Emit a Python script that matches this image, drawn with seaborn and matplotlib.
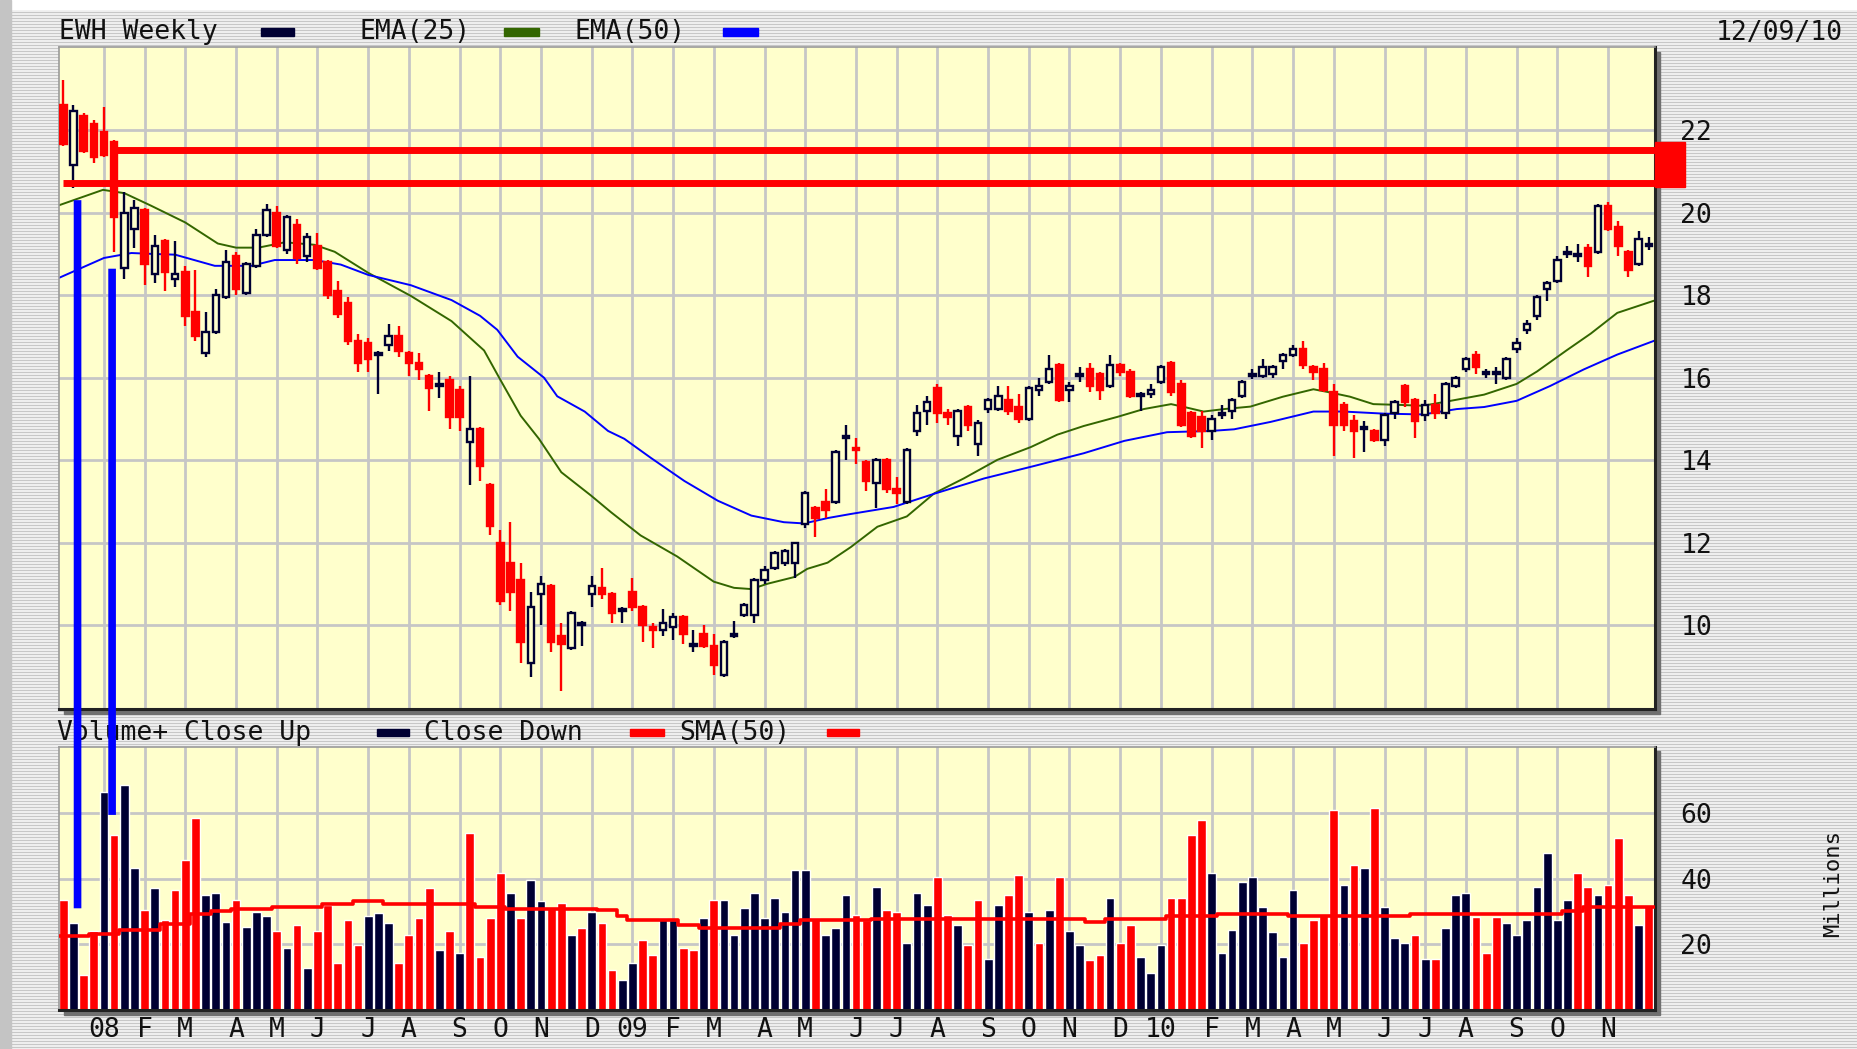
import numpy as np
import pandas as pd
import matplotlib
matplotlib.use("Agg")
import matplotlib.pyplot as plt
from matplotlib.patches import Rectangle, ConnectionPatch
import seaborn as sns

# --------------------------------------------------------------------------------
# EWH weekly candles, first week = 2007-12-03
# --------------------------------------------------------------------------------
opens = [22.6, 21.15, 22.35, 22.15, 21.95, 21.7, 18.65, 19.6, 20.05, 18.5,
         19.3, 18.4, 18.55, 17.6, 16.6, 17.1, 17.95, 18.95, 18.05, 18.7,
         19.45, 20.0, 19.1, 19.7, 18.95, 19.2, 18.8, 18.1, 17.8, 16.9,
         16.85, 16.55, 16.8, 17.0, 16.6, 16.35, 16.05, 15.8, 15.95, 15.7,
         14.45, 14.75, 13.4, 12.0, 11.5, 11.1, 9.1, 10.75, 10.95, 9.75,
         9.45, 10.0, 10.75, 10.9, 10.75, 10.35, 10.8, 10.45, 9.95, 9.9,
         9.95, 10.2, 9.5, 9.8, 9.5, 8.8, 9.75, 10.25, 10.25, 11.1,
         11.4, 11.5, 11.5, 12.45, 12.85, 13.0, 13.0, 14.55, 14.3, 13.95,
         13.45, 14.0, 13.3, 13.0, 14.7, 15.2, 15.75, 15.15, 14.6, 15.3,
         14.4, 15.25, 15.25, 15.45, 15.3, 15.0, 15.7, 15.9, 16.3, 15.7,
         16.05, 16.2, 16.1, 15.8, 16.3, 16.15, 15.55, 15.6, 15.9, 16.35,
         15.85, 15.15, 15.05, 14.7, 15.1, 15.2, 15.55, 16.05, 16.05, 16.1,
         16.4, 16.55, 16.7, 16.25, 16.2, 15.65, 15.35, 14.95, 14.75, 14.7,
         14.5, 15.15, 15.8, 15.45, 15.1, 15.35, 15.15, 15.8, 16.2, 16.55,
         16.1, 16.1, 16.0, 16.7, 17.15, 17.5, 18.15, 18.35, 19.0, 18.95,
         19.15, 19.05, 20.15, 19.65, 19.05, 18.75, 19.2]
highs = [23.2, 22.6, 22.4, 22.25, 22.55, 21.75, 20.5, 20.3, 20.1, 19.45,
         19.35, 19.3, 18.7, 18.6, 17.6, 18.15, 19.1, 19.05, 18.8, 19.6,
         20.2, 20.15, 19.95, 19.85, 19.5, 19.5, 18.85, 18.35, 17.95, 17.05,
         16.95, 16.65, 17.3, 17.25, 16.65, 16.6, 16.1, 16.15, 16.05, 15.8,
         16.05, 14.8, 13.45, 12.3, 12.5, 11.5, 10.8, 11.2, 11.0, 10.05,
         10.35, 10.1, 11.2, 11.4, 10.8, 10.45, 11.15, 10.5, 10.05, 10.4,
         10.3, 10.25, 9.9, 10.0, 9.8, 9.65, 10.1, 10.55, 11.15, 11.45,
         11.8, 11.85, 12.0, 13.25, 12.9, 13.3, 14.25, 14.85, 14.55, 14.0,
         14.05, 14.05, 13.6, 14.3, 15.35, 15.55, 15.85, 15.25, 15.25, 15.35,
         14.98, 15.5, 15.8, 15.8, 15.6, 15.8, 16.0, 16.55, 16.35, 15.9,
         16.25, 16.35, 16.15, 16.55, 16.35, 16.2, 15.65, 15.85, 16.3, 16.4,
         15.95, 15.2, 15.2, 15.1, 15.35, 15.5, 15.95, 16.2, 16.45, 16.3,
         16.6, 16.8, 16.9, 16.3, 16.35, 15.85, 15.4, 15.1, 14.95, 14.75,
         15.15, 15.45, 15.85, 15.5, 15.45, 15.6, 15.9, 16.05, 16.5, 16.65,
         16.2, 16.25, 16.5, 16.95, 17.4, 18.0, 18.35, 18.95, 19.2, 19.25,
         19.25, 20.2, 20.25, 19.8, 19.1, 19.55, 19.4]
lows = [21.6, 20.6, 21.45, 21.2, 21.35, 19.05, 18.4, 19.15, 18.25, 18.3,
        18.1, 18.2, 17.25, 16.9, 16.5, 17.05, 17.9, 18.0, 18.0, 18.65,
        19.4, 19.15, 19.0, 18.75, 18.8, 18.6, 17.9, 17.45, 16.8, 16.15,
        16.15, 15.6, 16.65, 16.5, 16.05, 15.95, 15.2, 15.5, 14.75, 14.7,
        13.4, 13.5, 12.2, 10.5, 10.35, 9.1, 8.75, 10.0, 9.35, 8.4,
        9.4, 9.5, 10.45, 10.65, 10.05, 10.05, 10.35, 9.6, 9.45, 9.75,
        9.65, 9.55, 9.35, 9.45, 8.8, 8.75, 9.7, 10.2, 10.05, 11.0,
        11.35, 11.45, 11.15, 12.35, 12.15, 12.6, 12.95, 14.0, 13.9, 13.25,
        12.85, 13.2, 12.95, 12.95, 14.6, 14.85, 14.9, 14.85, 14.35, 14.7,
        14.1, 15.15, 15.2, 15.1, 14.9, 14.95, 15.55, 15.85, 15.4, 15.4,
        15.9, 15.65, 15.45, 15.75, 16.05, 15.5, 15.2, 15.5, 15.85, 15.55,
        14.8, 14.55, 14.3, 14.5, 15.0, 15.0, 15.5, 15.98, 16.0, 16.0,
        16.2, 16.5, 16.2, 15.95, 15.65, 14.1, 14.7, 14.05, 14.2, 14.45,
        14.35, 15.0, 15.3, 14.55, 14.95, 15.0, 15.0, 15.75, 16.15, 16.1,
        16.0, 15.85, 15.95, 16.6, 17.05, 17.4, 17.85, 18.3, 18.9, 18.8,
        18.45, 19.0, 19.55, 18.95, 18.45, 18.7, 19.1]
closes = [21.65, 22.45, 21.5, 21.35, 21.4, 19.9, 20.0, 20.1, 18.75, 19.2,
          18.55, 18.5, 17.5, 17.0, 17.1, 18.0, 18.8, 18.15, 18.75, 19.45,
          20.05, 19.2, 19.9, 18.9, 19.4, 18.65, 18.0, 17.55, 16.9, 16.35,
          16.45, 16.6, 17.0, 16.65, 16.35, 16.2, 15.75, 15.85, 15.05, 15.05,
          14.75, 13.85, 12.4, 10.6, 10.8, 9.6, 10.45, 11.0, 9.6, 9.55,
          10.3, 10.05, 10.95, 10.75, 10.3, 10.4, 10.45, 10.0, 9.9, 10.05,
          10.2, 9.8, 9.55, 9.5, 9.05, 9.6, 9.8, 10.5, 11.1, 11.35,
          11.75, 11.8, 12.0, 13.2, 12.6, 12.8, 14.2, 14.6, 14.25, 13.5,
          14.0, 13.3, 13.2, 14.25, 15.15, 15.4, 15.15, 15.05, 15.2, 14.85,
          14.9, 15.45, 15.55, 15.2, 15.0, 15.75, 15.8, 16.2, 15.45, 15.8,
          16.1, 15.8, 15.7, 16.3, 16.15, 15.55, 15.6, 15.7, 16.25, 15.65,
          14.85, 14.6, 14.7, 15.0, 15.15, 15.45, 15.9, 16.1, 16.25, 16.25,
          16.55, 16.7, 16.3, 16.15, 15.7, 14.85, 14.85, 14.7, 14.8, 14.5,
          15.1, 15.4, 15.4, 14.95, 15.35, 15.15, 15.85, 16.0, 16.45, 16.25,
          16.15, 16.15, 16.45, 16.85, 17.3, 17.95, 18.3, 18.85, 19.05, 19.0,
          18.7, 20.15, 19.6, 19.2, 18.6, 19.35, 19.25]

# weekly volume, millions; U = close up (navy bar), D = close down (red bar)
volume = [33.5, 26.5, 10.6, 24.2, 66.5, 53.3, 68.5, 43.4, 30.5, 37.2,
          27.5, 36.6, 45.7, 58.6, 35.0, 35.7, 26.8, 33.5, 25.3, 29.8,
          28.8, 24.2, 19.0, 25.8, 12.9, 24.2, 32.1, 14.3, 27.3, 19.7,
          28.8, 29.5, 26.5, 14.3, 22.7, 28.1, 37.2, 18.2, 24.2, 17.4,
          54.0, 16.0, 28.1, 41.9, 35.7, 28.1, 39.6, 33.3, 31.1, 32.6,
          22.7, 25.0, 29.8, 26.5, 12.1, 9.1, 14.3, 21.4, 16.7, 28.1,
          27.3, 19.0, 18.4, 28.1, 33.5, 33.5, 22.7, 31.1, 35.7, 28.1,
          34.1, 29.8, 42.6, 42.6, 28.1, 22.7, 25.0, 35.0, 29.0, 27.5,
          37.4, 30.5, 29.8, 20.4, 35.7, 32.0, 40.4, 29.0, 25.8, 19.7,
          33.5, 15.4, 32.0, 35.0, 41.2, 29.8, 20.4, 30.5, 40.4, 24.2,
          19.7, 15.2, 16.7, 34.1, 20.4, 25.8, 16.0, 11.3, 19.7, 34.1,
          34.1, 53.3, 57.9, 41.9, 17.4, 24.4, 38.9, 40.4, 31.3, 23.7,
          16.0, 36.6, 20.4, 27.5, 29.0, 61.1, 38.1, 44.2, 43.4, 61.6,
          31.3, 22.0, 20.4, 22.7, 15.4, 15.4, 25.0, 35.0, 35.7, 28.3,
          17.4, 28.3, 26.5, 22.7, 27.5, 37.4, 48.0, 27.5, 33.5, 41.9,
          37.4, 35.0, 38.1, 52.5, 35.0, 25.8, 31.8]
vol_dir = ("DUDDUDUUDU" "DDDDUUUDUU" "UDUDUDDDDD" "UUUDDDDUDU" "DDDDUDUUDD"
           "UDUDDUUDDU" "UDDUDUUUUU" "UUUUDUUUDD" "UDDUUUDDUD" "DUUDDUDUDU"
           "UDDUDDUUUD" "DDDUUUUUUU" "UUDDDDUDUD" "UUUDUDUUUD" "DDUUUUUUUD"
           "DUDDDUD")

# EMA(25) / EMA(50) of price, read at week positions
ema25_x = [-0.5, 3.9, 6, 8.6, 12, 15.2, 17, 19.2, 21.8, 24.7, 26.7, 30, 34.2, 38.2,
           41.4, 43, 45, 46.8, 49, 51.9, 53.9, 56.8, 60.4, 64, 66, 67.7, 69.3, 71.9,
           73.2, 75.2, 77.5, 80.1, 83, 85.7, 88.6, 91.9, 95.2, 97.8, 100.4, 103.7,
           106.3, 109, 110.3, 112.2, 114.2, 116.8, 120, 123, 124.7, 126.6, 128.9,
           131.6, 133.8, 136.5, 139.8, 143, 145, 147.9, 150.3, 152.9, 156.7]
ema25_y = [20.17, 20.55, 20.47, 20.17, 19.76, 19.25, 19.15, 19.15, 19.28, 19.22,
           19.05, 18.54, 17.98, 17.37, 16.66, 15.95, 15.08, 14.52, 13.71, 13.15,
           12.74, 12.18, 11.67, 11.06, 10.91, 10.88, 11.01, 11.17, 11.37, 11.52,
           11.9, 12.39, 12.64, 13.2, 13.56, 14.01, 14.32, 14.62, 14.83, 15.05,
           15.24, 15.36, 15.29, 15.18, 15.24, 15.3, 15.54, 15.72, 15.64, 15.54,
           15.36, 15.34, 15.32, 15.44, 15.59, 15.85, 16.15, 16.66, 17.07, 17.57, 17.88]
ema50_x = [-0.5, 4, 6.7, 8.6, 11, 14.9, 18.5, 20.8, 24.7, 27.3, 30, 34.2, 38.2, 41,
           42.7, 44.7, 47.3, 48.6, 51.3, 53.6, 55.2, 57.8, 61.1, 64.4, 67.7, 70.9,
           72.9, 75.2, 77.5, 81.7, 85.7, 90.6, 95.5, 100.4, 104.4, 108.6, 112.9,
           115.2, 118.8, 123, 126, 129.9, 133.8, 137.1, 139.8, 143, 146.3, 149.6,
           152.9, 156.7]
ema50_y = [18.41, 18.9, 19.02, 19.0, 18.98, 18.71, 18.71, 18.85, 18.85, 18.74,
           18.49, 18.24, 17.88, 17.5, 17.16, 16.51, 16.0, 15.55, 15.18, 14.71,
           14.52, 14.06, 13.5, 13.02, 12.66, 12.5, 12.47, 12.6, 12.7, 12.87,
           13.19, 13.56, 13.86, 14.17, 14.47, 14.68, 14.71, 14.75, 14.93, 15.18,
           15.18, 15.13, 15.11, 15.24, 15.29, 15.44, 15.8, 16.2, 16.56, 16.91]

# SMA(50) of volume: week where each level starts, level in millions
sma_x = [0, 3, 6, 10, 13, 15, 17, 21, 26, 29, 32, 41, 44, 53, 55, 56, 61, 63, 71,
         73, 80, 101, 103, 109, 114, 121, 133, 148, 150, 157]
sma_y = [22.4, 23.2, 24.5, 26.2, 29.3, 30.1, 30.8, 31.5, 32.3, 33.1, 32.3, 31.5,
         30.8, 30.5, 28.8, 27.3, 26.0, 25.0, 26.3, 27.3, 27.8, 26.8, 27.8, 28.5,
         29.3, 28.8, 29.3, 30.3, 31.3, 31.3]

# hand-drawn annotations: resistance band and two marker lines
band_hi, band_lo = 21.51, 20.71
band_hi_start, band_lo_start = 4.6, 0.0
marker_weeks = [1.4, 4.8]
marker_price_top = [20.3, 18.64]
marker_vol_bottom = [31.0, 59.5]

# --------------------------------------------------------------------------------
NAVY = "#000033"
RED = "#ff0000"
PANEL = "#ffffcc"
GRID = "#c6c6c6"
GREEN = "#336600"
BLUE = "#0000ff"
TXT = "#111111"
FS = 19

sns.set_style("white")
plt.rcParams["font.family"] = ["DejaVu Sans Mono", "DejaVu Sans"]

start = pd.Timestamp("2007-12-03")
weeks = np.arange(len(closes))
months = pd.date_range("2008-01-01", "2010-11-01", freq="MS")
month_pos = [(m - start).days // 7 for m in months]
month_lab = [m.strftime("%y") if m.month == 1 else m.strftime("%b")[0] for m in months]
XLIM = (-0.4, 156.65)

W, H = 1568.0, 885.0  # layout measured on the reference preview


def fx(px):
    return px / W


def fy(py):
    return 1 - py / H


fig = plt.figure(figsize=(18.58, 10.49), dpi=100)

# striped grey page background
rows = np.arange(1049)
shade = np.where(rows % 3 == 0, 0.78, 0.93)
bg = fig.add_axes([0, 0, 1, 1], zorder=-10)
bg.imshow(np.repeat(shade[:, None], 2, axis=1), cmap="gray", vmin=0, vmax=1,
          aspect="auto", interpolation="nearest", extent=[0, 1, 0, 1])
bg.axis("off")
fig.add_artist(Rectangle((0, fy(8)), 1, 8 / H, transform=fig.transFigure,
                         color="white", zorder=-4))
fig.add_artist(Rectangle((0, 0), fx(9), 1, transform=fig.transFigure,
                         color="#c4c4c4", zorder=-4))

price_box = [fx(50), fy(598), fx(1397) - fx(50), fy(40) - fy(598)]
vol_box = [fx(50), fy(852), fx(1397) - fx(50), fy(630) - fy(852)]
for b in (price_box, vol_box):
    fig.add_artist(Rectangle((b[0] + fx(4), b[1] - 4 / H), b[2], b[3],
                             transform=fig.transFigure, color="#707070", zorder=-3))

ax = fig.add_axes(price_box)
axv = fig.add_axes(vol_box)

for a in (ax, axv):
    a.set_facecolor(PANEL)
    a.set_xlim(*XLIM)
    a.set_xticks(month_pos)
    a.grid(True, color=GRID, lw=2, zorder=0)
    a.set_axisbelow(True)
    a.yaxis.tick_right()
    a.tick_params(length=0, labelsize=FS, colors=TXT, pad=5)
    a.tick_params(axis="y", pad=18)
    for s in ("left", "top"):
        a.spines[s].set_color("#9a9a9a")
        a.spines[s].set_linewidth(1.2)
    for s in ("right", "bottom"):
        a.spines[s].set_color("#222222")
        a.spines[s].set_linewidth(2.2)

# ---- price panel ----
for i, o, h, l, c in zip(weeks, opens, highs, lows, closes):
    down = c < o
    col = RED if down else NAVY
    ax.vlines(i, l, h, color=col, lw=1.7, zorder=3)
    ax.add_patch(Rectangle((i - 0.32, min(o, c)), 0.64, max(abs(c - o), 0.03),
                           facecolor=RED if down else PANEL, edgecolor=col,
                           lw=1.7, zorder=4))

sns.lineplot(x=ema25_x, y=ema25_y, ax=ax, color=GREEN, lw=1.4, sort=False,
             estimator=None, zorder=2.5)
sns.lineplot(x=ema50_x, y=ema50_y, ax=ax, color=BLUE, lw=1.4, sort=False,
             estimator=None, zorder=2.5)

ax.hlines(band_hi, band_hi_start, XLIM[1], color=RED, lw=5, zorder=6)
ax.hlines(band_lo, band_lo_start, XLIM[1], color=RED, lw=5, zorder=6)
ax.add_patch(Rectangle((XLIM[1], band_lo - 0.1), 2.9, band_hi - band_lo + 0.3,
                       color=RED, clip_on=False, zorder=6))

ax.set_ylim(7.98, 24.0)
ax.set_yticks(range(10, 23, 2))
ax.set_xticklabels([])
ax.set_xlabel("")
ax.set_ylabel("")

# ---- volume panel ----
axv.bar(weeks, volume, width=0.86,
        color=[NAVY if d == "U" else RED for d in vol_dir], zorder=2)
sns.lineplot(x=np.array(sma_x) - 0.5, y=sma_y, ax=axv, color=RED, lw=2.6,
             drawstyle="steps-post", sort=False, estimator=None, zorder=3)
axv.set_ylim(0, 80.3)
axv.set_yticks([20, 40, 60])
axv.set_xticklabels(month_lab)
axv.set_xlabel("")
axv.set_ylabel("")

# marker lines running from the price panel down into the volume panel
for xw, ptop, vbot in zip(marker_weeks, marker_price_top, marker_vol_bottom):
    cp = ConnectionPatch(xyA=(xw, ptop), coordsA=ax.transData,
                         xyB=(xw, vbot), coordsB=axv.transData,
                         color=BLUE, lw=5.5, capstyle="butt", zorder=10)
    fig.add_artist(cp)

# ---- header texts ----
def swatch(x0, x1, yc, color):
    fig.add_artist(Rectangle((fx(x0), fy(yc + 3)), fx(x1) - fx(x0), 6 / H,
                             transform=fig.transFigure, color=color))


fig.text(fx(50), fy(27), "EWH Weekly", va="center", fontsize=FS, color=TXT)
swatch(220, 248, 27, NAVY)
fig.text(fx(303), fy(27), "EMA(25)", va="center", fontsize=FS, color=TXT)
swatch(425, 455, 27, GREEN)
fig.text(fx(485), fy(27), "EMA(50)", va="center", fontsize=FS, color=TXT)
swatch(610, 640, 27, BLUE)
fig.text(fx(1555), fy(28), "12/09/10", va="center", ha="right", fontsize=FS, color=TXT)

fig.text(fx(48), fy(618), "Volume+ Close Up", va="center", fontsize=FS, color=TXT)
swatch(318, 345, 618, NAVY)
fig.text(fx(358), fy(618), "Close Down", va="center", fontsize=FS, color=TXT)
swatch(532, 560, 618, RED)
fig.text(fx(573), fy(618), "SMA(50)", va="center", fontsize=FS, color=TXT)
swatch(698, 725, 618, RED)

fig.text(fx(1547), fy(745), "Millions", va="center", ha="center", rotation=90,
         fontsize=16, color=TXT)

fig.savefig("out.png", dpi=100)
